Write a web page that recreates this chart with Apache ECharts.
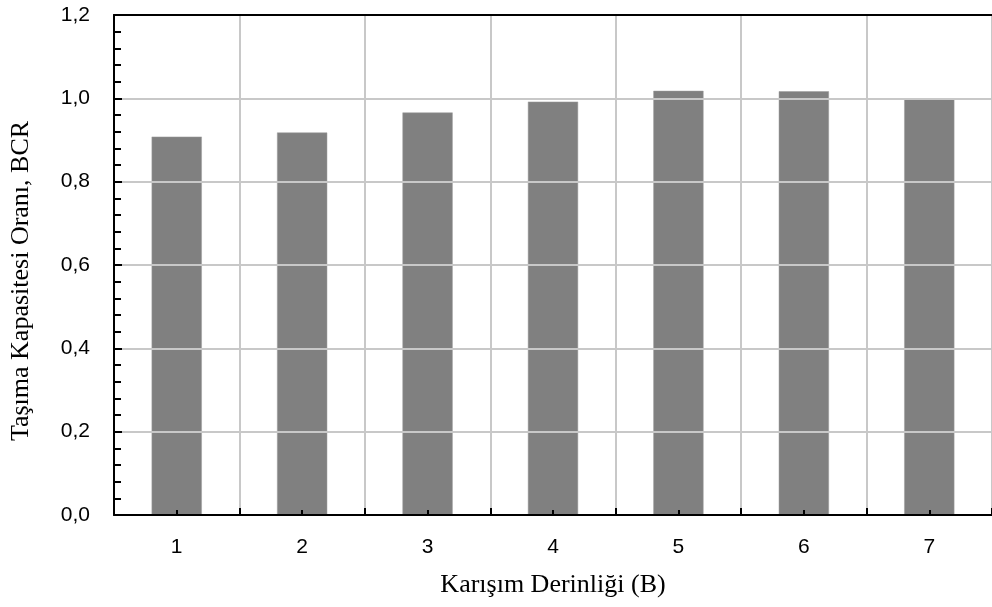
<!DOCTYPE html>
<html>
<head>
<meta charset="utf-8">
<script src="https://cdn.jsdelivr.net/npm/echarts@6/dist/echarts.min.js"></script>
<style>html,body{margin:0;padding:0;background:#fff;}#c{width:992px;height:607px;}</style>
</head>
<body>
<div id="c"></div>
<script>
const categories = ['1', '2', '3', '4', '5', '6', '7'];
const bcrValues = [0.908, 0.918, 0.966, 0.992, 1.018, 1.017, 1.0];
const yTicks = { min: 0, max: 1.2, interval: 0.2 };
const xAxisTitle = 'Karışım Derinliği (B)';
const yAxisTitle = 'Taşıma Kapasitesi Oranı, BCR';

const chart = echarts.init(document.getElementById('c'), null, { renderer: 'canvas' });
const gridColor = '#c8c8c8';
const baseX = {
  type: 'category',
  gridIndex: 0,
  data: categories,
  boundaryGap: true,
  axisLabel: { show: false },
  splitLine: { show: false },
  axisLine: { show: false, onZero: false }
};
chart.setOption({
  animation: false,
  backgroundColor: '#fff',
  grid: { left: 114, top: 15, right: -3, bottom: 92 },
  xAxis: [
    Object.assign({}, baseX, {
      position: 'bottom',
      name: xAxisTitle,
      nameLocation: 'middle',
      nameGap: 57,
      nameTextStyle: { fontFamily: 'Liberation Serif', fontSize: 26, color: '#000' },
      axisLine: { show: true, onZero: false, lineStyle: { color: '#000', width: 2 } },
      axisTick: { show: false },
      axisLabel: { show: true, fontFamily: 'Liberation Sans', fontSize: 21, color: '#000', margin: 22 },
      splitLine: { show: true, lineStyle: { color: gridColor, width: 2 } },
      z: 3
    }),
    Object.assign({}, baseX, {
      position: 'bottom',
      axisTick: { show: true, inside: true, length: 7, alignWithLabel: false, lineStyle: { color: '#000', width: 2 } },
      z: 4
    }),
    Object.assign({}, baseX, {
      position: 'bottom',
      axisTick: { show: true, inside: true, length: 5, alignWithLabel: true, lineStyle: { color: '#000', width: 2 } },
      z: 4
    }),
    Object.assign({}, baseX, {
      position: 'top',
      axisLine: { show: true, onZero: false, lineStyle: { color: '#000', width: 2 } },
      axisTick: { show: false },
      z: 3
    })
  ],
  yAxis: {
    type: 'value',
    min: yTicks.min,
    max: yTicks.max,
    interval: yTicks.interval,
    name: yAxisTitle,
    nameLocation: 'middle',
    nameGap: 80,
    nameTextStyle: { fontFamily: 'Liberation Serif', fontSize: 26, color: '#000', padding: [0, 32, 0, 0] },
    axisLine: { show: true, lineStyle: { color: '#000', width: 2 } },
    axisTick: { show: true, inside: true, length: 8, lineStyle: { color: '#000', width: 2 } },
    minorTick: { show: true, splitNumber: 5, length: 7, lineStyle: { color: '#000', width: 2 } },
    axisLabel: { fontFamily: 'Liberation Sans', fontSize: 21, color: '#000', margin: 24,
      formatter: v => v.toFixed(1).replace('.', ',') },
    splitLine: { show: true, lineStyle: { color: gridColor, width: 2 } },
    z: 3
  },
  series: [{
    type: 'bar',
    xAxisIndex: 0,
    data: bcrValues,
    barWidth: '40%',
    itemStyle: { color: '#808080', borderColor: '#9a9a9a', borderWidth: 0.5 }
  }]
});
</script>
</body>
</html>
